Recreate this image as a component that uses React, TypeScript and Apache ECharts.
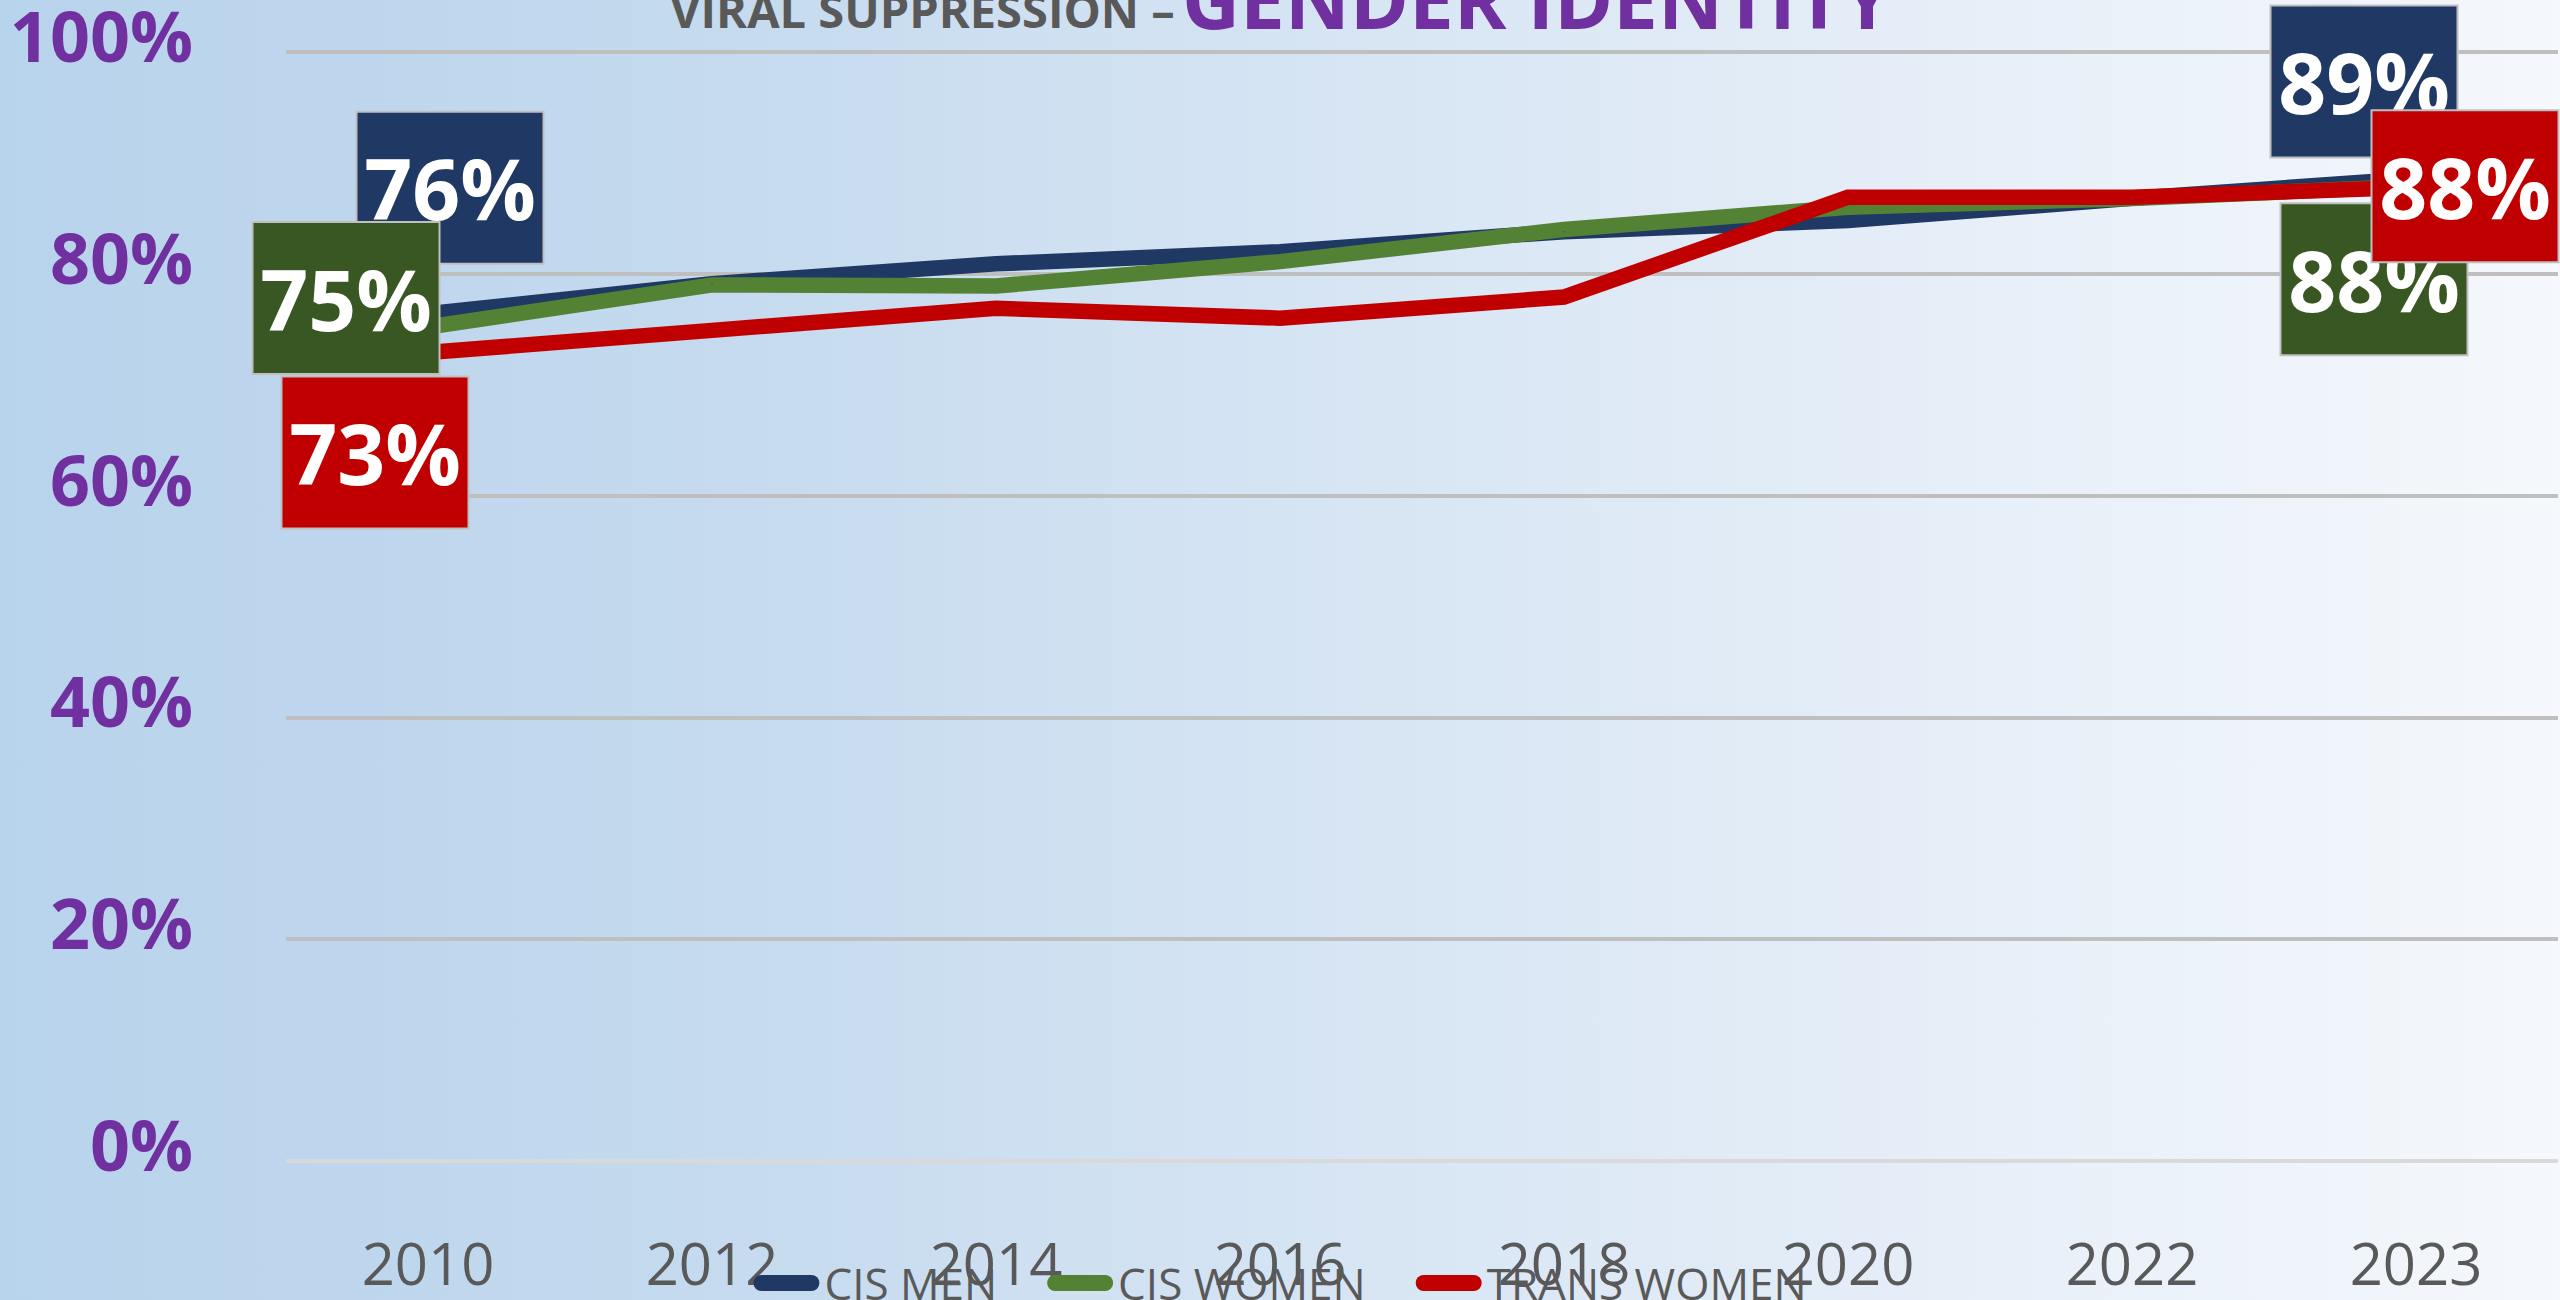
import React, { useEffect, useRef } from 'react';
import * as echarts from 'echarts';

const years = ['2010', '2012', '2014', '2016', '2018', '2020', '2022', '2023'];
const cisMen = [76.4, 79.1, 80.9, 82.0, 83.8, 84.8, 86.8, 88.6];
const cisWomen = [75.2, 79.0, 78.9, 81.1, 84.0, 86.0, 86.8, 87.9];
const transWomen = [72.9, 74.9, 76.9, 76.0, 77.9, 86.9, 86.9, 87.8];
const seriesNames = ['CIS MEN', 'CIS WOMEN', 'TRANS WOMEN'];
const yTicks = [0, 20, 40, 60, 80, 100];

const lineColors = ['#203864', '#548235', '#C00000'];
const boxColors = ['#203864', '#385723', '#C00000'];
const firstOffsets = [[22, -126], [-82, -29], [-53, 100]];
const lastOffsets = [[-52, -97], [-42, 93], [49, -1]];

const FONT = "'Open Sans', 'Noto Sans', sans-serif";

function buildSeries(name: string, values: number[], idx: number) {
  const last = values.length - 1;
  return {
    name,
    type: 'line',
    data: values.map((v, i) => ({
      value: v,
      label: {
        show: i === 0 || i === last,
        offset: i === 0 ? firstOffsets[idx] : lastOffsets[idx],
      },
    })),
    symbol: 'circle',
    symbolSize: 1,
    showSymbol: true,
    lineStyle: { color: lineColors[idx], width: 15.5, join: 'miter' },
    itemStyle: { color: lineColors[idx] },
    label: {
      position: 'inside',
      formatter: (p: any) => Math.round(p.value) + '%',
      color: '#FFFFFF',
      fontFamily: FONT,
      fontWeight: 'bold',
      fontSize: 84,
      backgroundColor: boxColors[idx],
      borderColor: '#BFBFBF',
      borderWidth: 2,
      width: 185,
      height: 150,
      lineHeight: 150,
      align: 'center',
      verticalAlign: 'middle',
    },
    emphasis: { disabled: true },
  };
}

export default function App() {
  const ref = useRef<HTMLDivElement>(null);
  useEffect(() => {
    document.body.style.margin = '0';
    const chart = echarts.init(ref.current!, undefined, { renderer: 'svg' });
    chart.setOption({
      animation: false,
      backgroundColor: 'transparent',
      grid: { left: 286, right: 2, top: 52, bottom: 139, containLabel: false },
      graphic: [
        {
          type: 'text',
          x: 670,
          y: 10,
          style: {
            text: 'VIRAL SUPPRESSION –',
            fill: '#595959',
            font: `bold 47px ${FONT}`,
            textAlign: 'left',
            textVerticalAlign: 'middle',
          },
        },
        {
          type: 'text',
          x: 1182,
          y: -3,
          style: {
            text: 'GENDER IDENTITY',
            fill: '#7030A0',
            font: `bold 80px ${FONT}`,
            textAlign: 'left',
            textVerticalAlign: 'middle',
          },
        },
      ],
      legend: {
        data: seriesNames,
        left: 'center',
        top: 1256,
        itemWidth: 66,
        itemHeight: 16,
        itemGap: 50,
        icon: 'path://M8,0H58A8,8,0,0,1,58,16H8A8,8,0,0,1,8,0Z',
        itemStyle: { borderWidth: 0 },
        textStyle: { fontSize: 44, color: '#595959', fontFamily: FONT },
      },
      xAxis: {
        type: 'category',
        data: years,
        boundaryGap: true,
        axisLine: { show: false },
        axisTick: { show: false },
        axisLabel: { fontSize: 58, color: '#595959', fontFamily: FONT, margin: 72 },
      },
      yAxis: {
        type: 'value',
        min: yTicks[0],
        max: yTicks[yTicks.length - 1],
        interval: 20,
        axisLine: { show: false },
        axisTick: { show: false },
        splitLine: {
          show: true,
          lineStyle: { color: ['#D9D9D9', '#BFBFBF', '#BFBFBF', '#BFBFBF', '#BFBFBF', '#BFBFBF'], width: 4 },
        },
        axisLabel: {
          formatter: '{value}%',
          fontSize: 70,
          fontWeight: 'bold',
          color: '#7030A0',
          fontFamily: FONT,
          margin: 93,
          verticalAlign: 'bottom',
          lineHeight: 34,
        },
      },
      series: [
        buildSeries(seriesNames[0], cisMen, 0),
        buildSeries(seriesNames[1], cisWomen, 1),
        buildSeries(seriesNames[2], transWomen, 2),
      ],
    });
    return () => chart.dispose();
  }, []);
  return (
    <div
      ref={ref}
      style={{
        width: 2560,
        height: 1300,
        background: 'linear-gradient(to right, #B8D3EC 0%, #C3D9EE 25%, #DCE8F5 60%, #F5F8FC 100%)',
      }}
    />
  );
}
